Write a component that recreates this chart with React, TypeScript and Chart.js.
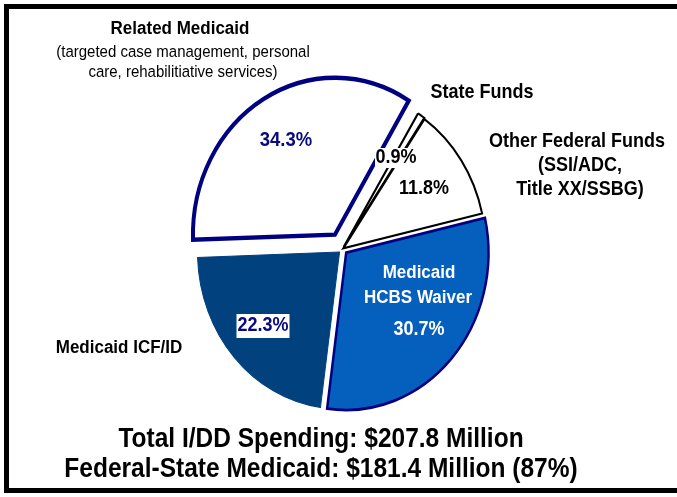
import React, { useEffect, useRef } from "react";
import { Chart, registerables } from "chart.js";

Chart.register(...registerables);

// ---- data ----
const categories = [
  "Related Medicaid",
  "State Funds",
  "Other Federal Funds",
  "Medicaid HCBS Waiver",
  "Medicaid ICF/ID",
];
const shares = [34.3, 0.9, 11.8, 30.7, 22.3];
const relatedNote = ["(targeted case management, personal", "care, rehabilitiative services)"];
const otherNote = ["(SSI/ADC,", "Title XX/SSBG)"];
const hcbsLines = ["Medicaid", "HCBS Waiver"];
const totalLine = "Total I/DD Spending: $207.8 Million";
const medicaidLine = "Federal-State Medicaid: $181.4 Million (87%)";

// ---- styles ----
const fills = ["#FFFFFF", "#FFFFFF", "#FFFFFF", "#0560BD", "#00417E"];
const borders = ["#000080", "#000000", "#000000", "#000080", "#00417E"];
const borderWidths = [4, 2, 2, 2.5, 1];
const offsets = [60, 8, 4, 20, 16];
const radiusTrim = [2.5, 1.8, 0, 0, 0];
const NAVY = "#0A0A80";
const FONT = '"Liberation Sans", Arial, sans-serif';
const Y_STRETCH = 1.105;
const TEXT_STRETCH = 1.1;

function txt(
  ctx: CanvasRenderingContext2D,
  s: string,
  x: number,
  y: number,
  size: number,
  bold: boolean,
  color: string,
  bg?: { w: number; h: number }
) {
  ctx.save();
  ctx.translate(x, y);
  ctx.scale(1, TEXT_STRETCH);
  ctx.font = `${bold ? "bold " : ""}${size}px ${FONT}`;
  ctx.textAlign = "center";
  ctx.textBaseline = "middle";
  if (bg) {
    ctx.fillStyle = "#FFFFFF";
    ctx.fillRect(-bg.w / 2, -bg.h / 2 / TEXT_STRETCH, bg.w, bg.h / TEXT_STRETCH);
  }
  ctx.fillStyle = color;
  ctx.fillText(s, 0, 0);
  ctx.restore();
}

const ellipsePlugin = {
  id: "ellipse",
  afterDatasetsUpdate(chart: any) {
    const arcs = chart.getDatasetMeta(0).data;
    arcs.forEach((a: any, i: number) => {
      a.outerRadius = a.outerRadius - radiusTrim[i];
    });
  },
  beforeDatasetsDraw(chart: any) {
    const arc = chart.getDatasetMeta(0).data[0];
    const cx = arc.x;
    const cy = arc.y;
    const ctx = chart.ctx;
    ctx.save();
    ctx.translate(cx, cy);
    ctx.scale(1, Y_STRETCH);
    ctx.translate(-cx, -cy);
  },
  afterDatasetsDraw(chart: any) {
    chart.ctx.restore();
  },
};

const labelPlugin = {
  id: "labels",
  beforeDraw(chart: any) {
    const ctx = chart.ctx;
    ctx.save();
    ctx.fillStyle = "#FFFFFF";
    ctx.fillRect(0, 0, chart.width, chart.height);
    ctx.restore();
  },
  afterDraw(chart: any) {
    const ctx: CanvasRenderingContext2D = chart.ctx;
    const pct = shares.map((v) => `${v.toFixed(1)}%`);
    // frame: top, left, bottom only (right side runs off the picture)
    ctx.save();
    ctx.strokeStyle = "#000000";
    ctx.lineWidth = 5;
    ctx.lineCap = "square";
    ctx.beginPath();
    ctx.moveTo(chart.width + 10, 6.5);
    ctx.lineTo(6.5, 6.5);
    ctx.lineTo(6.5, 490.5);
    ctx.lineTo(chart.width + 10, 490.5);
    ctx.stroke();
    ctx.restore();

    // outside category labels
    txt(ctx, categories[0], 180, 29, 17, true, "#000");
    txt(ctx, relatedNote[0], 183, 52, 15, false, "#000");
    txt(ctx, relatedNote[1], 183, 72, 15, false, "#000");
    txt(ctx, categories[1], 482, 93, 18, true, "#000");
    txt(ctx, categories[2], 577, 142, 18, true, "#000");
    txt(ctx, otherNote[0], 580, 166, 18, true, "#000");
    txt(ctx, otherNote[1], 580, 190, 18, true, "#000");
    txt(ctx, categories[4], 119, 348, 17, true, "#000");

    // values
    txt(ctx, pct[0], 286, 140, 18.5, true, NAVY);
    txt(ctx, pct[1], 396, 158, 18, true, "#000", { w: 42, h: 20 });
    txt(ctx, pct[2], 424, 189, 18, true, "#000");
    txt(ctx, hcbsLines[0], 419, 273, 17, true, "#FFF");
    txt(ctx, hcbsLines[1], 418, 298, 17, true, "#FFF");
    txt(ctx, pct[3], 419, 330, 18, true, "#FFF");
    txt(ctx, pct[4], 263, 326, 18, true, NAVY, { w: 53, h: 24 });

    // totals
    txt(ctx, totalLine, 321, 440, 24.5, true, "#000");
    txt(ctx, medicaidLine, 321, 470, 24.5, true, "#000");
  },
};

export default function App() {
  const ref = useRef<HTMLCanvasElement>(null);
  useEffect(() => {
    if (!ref.current) return;
    const chart = new Chart(ref.current, {
      type: "pie",
      data: {
        labels: categories,
        datasets: [
          {
            data: shares,
            backgroundColor: fills,
            borderColor: borders,
            borderWidth: borderWidths,
            offset: offsets,
            borderJoinStyle: "miter",
          } as any,
        ],
      },
      options: {
        responsive: false,
        animation: false,
        devicePixelRatio: 1,
        rotation: -92,
        radius: 142,
        layout: { padding: { left: 58, right: 50, top: 1, bottom: 0 } },
        plugins: {
          legend: { display: false },
          tooltip: { enabled: false },
          title: { display: false },
        },
      } as any,
      plugins: [ellipsePlugin, labelPlugin],
    });
    return () => chart.destroy();
  }, []);
  return (
    <div style={{ position: "fixed", left: 0, top: 0, width: 677, height: 497, background: "#fff" }}>
      <canvas ref={ref} width={677} height={497} style={{ width: 677, height: 497, display: "block" }} />
    </div>
  );
}
